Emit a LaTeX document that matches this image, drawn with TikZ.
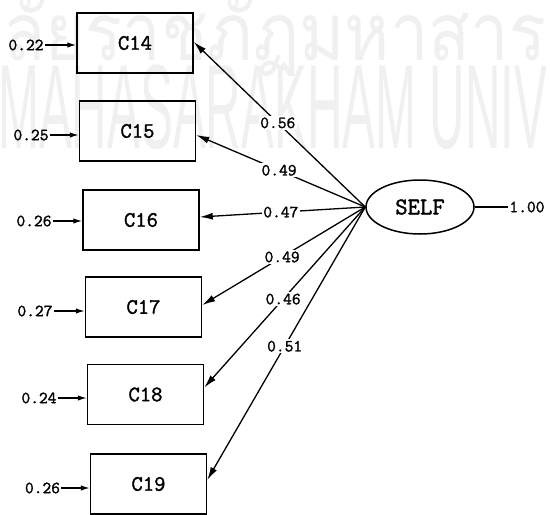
\documentclass[tikz,border=0pt]{standalone}
\usepackage{fontspec}
\newfontfamily\diagfont{Latin Modern Mono}[FakeBold=1.6,AutoFakeBold=1.6]
\newfontfamily\thaifont[Script=Thai]{Loma}
\newfontfamily\wmsans{Liberation Sans}
\usetikzlibrary{arrows.meta,shapes.geometric}
\begin{document}
\begin{tikzpicture}[x=1pt,y=-1pt,
  box/.style={draw, line width=1.5pt, minimum width=116pt, minimum height=60pt, inner sep=0pt,
    font=\diagfont\bfseries\fontsize{22}{22}\selectfont},
  lat/.style={draw, ellipse, line width=1.5pt, minimum width=108pt, minimum height=54pt, inner sep=0pt,
    font=\diagfont\bfseries\fontsize{24}{24}\selectfont},
  err/.style={font=\diagfont\bfseries\fontsize{17}{17}\selectfont, inner sep=1pt},
  lbl/.style={fill=white, font=\diagfont\bfseries\fontsize{17}{17}\selectfont, inner sep=1.5pt},
  load/.style={line width=1.3pt, -{Latex[length=13pt,width=7pt]}},
  errarrow/.style={line width=1.3pt, -{Latex[length=9pt,width=5.5pt]}},
  wm/.style={text=black!6, inner sep=0pt}]
\useasboundingbox (0,0) rectangle (550,515);
% watermark
\begin{scope}
\clip (0,0) rectangle (550,515);
\node[wm, font=\thaifont\fontsize{80}{80}\selectfont, xscale=0.86, anchor=base east] (wma) at (3,60) {มหาวิทยา};
\node[wm, font=\thaifont\fontsize{80}{80}\selectfont, xscale=0.86, anchor=base west] (wmb) at (wma.base east) {ลัยราชภัฏมหาสารคาม};
\node[wm, font=\wmsans\fontsize{120}{120}\selectfont, xscale=0.41, anchor=base west] (wmc) at (-2,148) {MAHASARAKHAM UNIVERSITY};
\end{scope}
% observed variables
\node[box] (c14) at (135,43) {C14};
\node[box] (c15) at (137.5,131) {C15};
\node[box] (c16) at (141,220) {C16};
\node[box] (c17) at (143.5,307) {C17};
\node[box] (c18) at (145.5,394.5) {C18};
\node[box] (c19) at (148.5,484) {C19};
% latent
\node[lat] (self) at (420,207) {SELF};
\node[err] (one) at (527,207) {1.00};
\draw[line width=1.3pt] (self) -- (one);
% error terms
\node[err] (e14) at (26,45) {0.22};
\node[err] (e15) at (31,135) {0.25};
\node[err] (e16) at (34,221) {0.26};
\node[err] (e17) at (35,311) {0.27};
\node[err] (e18) at (39,398) {0.24};
\node[err] (e19) at (42.5,488) {0.26};
\draw[errarrow] (e14) -- (e14 -| c14.west);
\draw[errarrow] (e15) -- (e15 -| c15.west);
\draw[errarrow] (e16) -- (e16 -| c16.west);
\draw[errarrow] (e17) -- (e17 -| c17.west);
\draw[errarrow] (e18) -- (e18 -| c18.west);
\draw[errarrow] (e19) -- (e19 -| c19.west);
% loadings
\draw[load] (self.west) -- node[lbl, pos=0.51] {0.56} ([yshift=1pt]c14.east);
\draw[load] (self.west) -- node[lbl, pos=0.51] {0.49} ([yshift=-4pt]c15.east);
\draw[load] (self.west) -- node[lbl, pos=0.51] {0.47} ([yshift=3pt]c16.east);
\draw[load] (self.west) -- node[lbl, pos=0.51] {0.49} ([yshift=2pt]c17.east);
\draw[load] (self.west) -- node[lbl, pos=0.51] {0.46} ([yshift=7pt]c18.east);
\draw[load] (self.west) -- node[lbl, pos=0.51] {0.51} ([yshift=4pt]c19.east);
\end{tikzpicture}
\end{document}
